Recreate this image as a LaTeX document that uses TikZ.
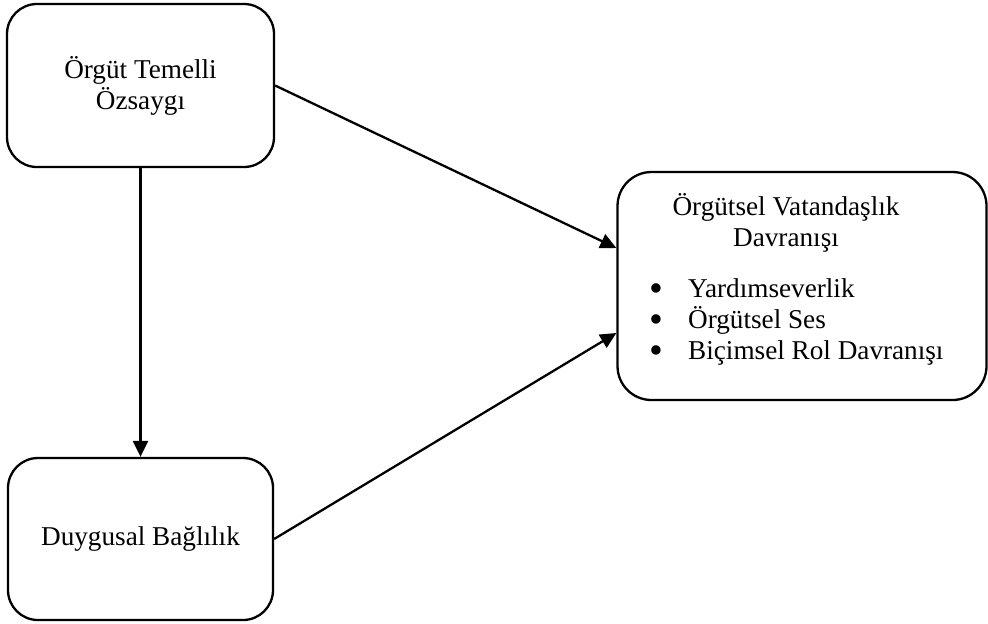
\documentclass[tikz,border=0pt]{standalone}
\usepackage{fontspec}
\setmainfont{Liberation Serif}
\usetikzlibrary{arrows.meta}
\newcommand{\blt}{\makebox[5pt][c]{\raisebox{-2.3pt}[0pt][0pt]{\scalebox{1.45}{•}}}}
\begin{document}
\begin{tikzpicture}[x=0.5pt,y=-0.5pt,line width=1.15pt,>={Triangle[length=8pt,width=7.5pt]},
    main node/.style={draw,rounded corners=15pt,align=center,font=\fontsize{13.6}{15.5}\selectfont},
    label text/.style={inner sep=0pt,align=center,font=\fontsize{13.6}{15.5}\selectfont}]
                \useasboundingbox (0,0) rectangle (988,623);
                \node[main node,minimum width=133.5pt,minimum height=81.5pt] at (140.5, 85.5) (oto) {\"Org\"ut Temelli\\\"Ozsayg\i};
                \node[main node,minimum width=132.5pt,minimum height=81pt] at (140.5, 539) (db) {Duygusal Ba\u{g}l\i l\i k};
                \node[main node,rounded corners=17pt,minimum width=184.5pt,minimum height=114pt] at (802, 286) (ovd) {};
                \node[label text] at (786, 223) (ovdtitle) {\"Org\"utsel Vatanda\c{s}l\i k\\Davran\i\c{s}\i};
                \node[label text,anchor=west] at (650, 322) (ovdlist) {\begin{tabular}{@{}l@{\hspace{13.5pt}}l@{}}
                    \blt & Yard\i mseverlik\\
                    \blt & \"Org\"utsel Ses\\
                    \blt & Bi\c{c}imsel Rol Davran\i\c{s}\i
                    \end{tabular}};

                \draw[->] (oto.east) -- ([yshift=19pt]ovd.west);
                \draw[->] (oto.south) -- (db.north);
                \draw[->] (db.east) -- ([yshift=-23.5pt]ovd.west);
\end{tikzpicture}
\end{document}
